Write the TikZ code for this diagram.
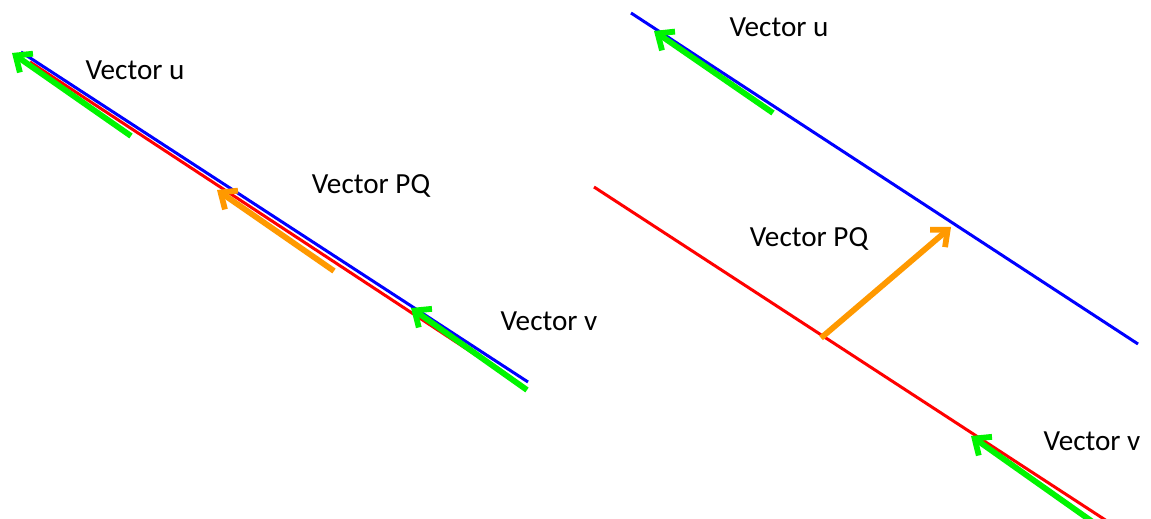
\documentclass[tikz,border=0pt]{standalone}
\usepackage{fontspec}
\setmainfont{Carlito}
\usetikzlibrary{arrows.meta}
\definecolor{vgreen}{RGB}{0,245,0}
\definecolor{vorange}{RGB}{255,153,0}

\begin{document}
\begin{tikzpicture}[x=0.02cm,y=-0.02cm,
    line/.style={line width=1.7pt},
    vec/.style={line width=3.3pt,-{Straight Barb[length=7.5pt,width=13pt]}},
    lbl/.style={font=\fontsize{16.6}{19}\selectfont,inner sep=0pt}]
  \clip (0,0) rectangle (1151,519);
  % left: lines on top of each other
  \coordinate (bu1) at (21,52);   \coordinate (bu2) at (528,382);
  \coordinate (rv1) at (30,62);   \coordinate (rv2) at (523,386);
  \coordinate (u1) at (131,136);  \coordinate (u2) at (12,53);
  \coordinate (pq1) at (334,271); \coordinate (pq2) at (217,190);
  \coordinate (v1) at (527,390);  \coordinate (v2) at (411,308);
  \node[lbl] (lu) at (135,70) {Vector u};
  \node[lbl] (lpq) at (371,186) {Vector PQ};
  \node[lbl] (lv) at (549,321) {Vector v};
  \path (rv1) edge[line,red] (rv2)
    (bu1) edge[line,blue] (bu2)
    (u1) edge[vec,vgreen] (u2)
    (pq1) edge[vec,vorange] (pq2)
    (v1) edge[vec,vgreen] (v2);
  % right: parallel lines
  \coordinate (bu3) at (631,13);   \coordinate (bu4) at (1138,344);
  \coordinate (rv3) at (594,187);  \coordinate (rv4) at (1110,523);
  \coordinate (u3) at (773,113);   \coordinate (u4) at (654,31);
  \coordinate (pq3) at (821,338);  \coordinate (pq4) at (951,227);
  \coordinate (v3) at (1097,525);  \coordinate (v4) at (971,436);
  \node[lbl] (ru) at (779,27) {Vector u};
  \node[lbl] (rpq) at (809,239) {Vector PQ};
  \node[lbl] (rv) at (1092,441) {Vector v};
  \path (rv3) edge[line,red] (rv4)
    (bu3) edge[line,blue] (bu4)
    (u3) edge[vec,vgreen] (u4)
    (pq3) edge[vec,vorange] (pq4)
    (v3) edge[vec,vgreen] (v4);
\end{tikzpicture}
\end{document}
